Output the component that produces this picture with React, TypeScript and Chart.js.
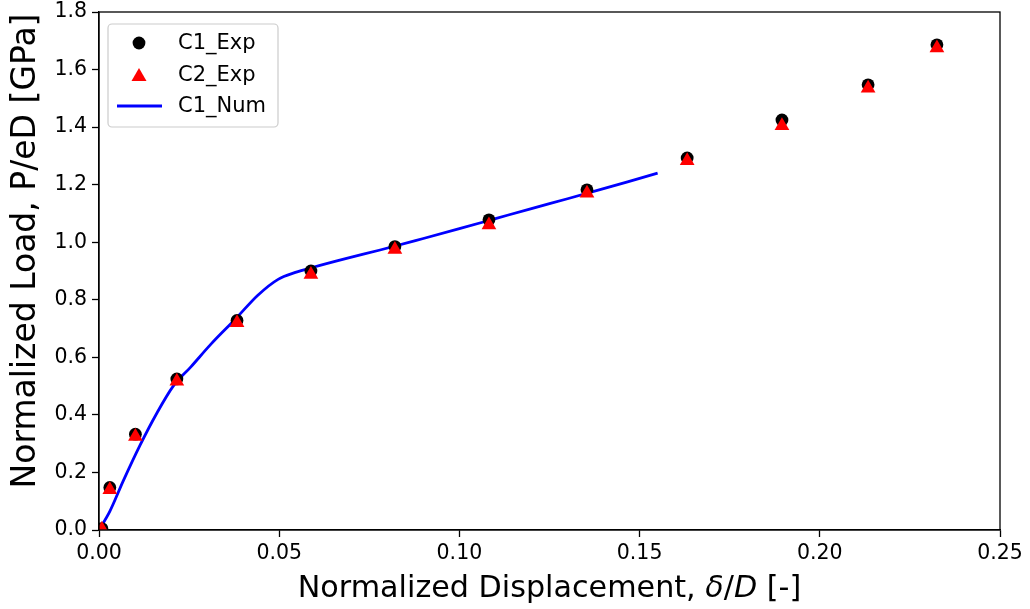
import React, { useEffect, useRef } from "react";
import { Chart, registerables } from "chart.js";

Chart.register(...registerables);

const c1X = [0.0008, 0.003, 0.0101, 0.0216, 0.0383, 0.0588, 0.0821, 0.1082, 0.1354, 0.1632, 0.1895, 0.2134, 0.2325];
const c1Y = [0.005, 0.148, 0.333, 0.525, 0.728, 0.9, 0.985, 1.078, 1.182, 1.293, 1.425, 1.547, 1.686];
const c2X = [0.0008, 0.003, 0.0101, 0.0216, 0.0383, 0.0588, 0.0821, 0.1082, 0.1354, 0.1632, 0.1895, 0.2134, 0.2325];
const c2Y = [0.003, 0.14, 0.325, 0.517, 0.72, 0.888, 0.975, 1.06, 1.17, 1.283, 1.405, 1.535, 1.675];
const numX = [0, 0.003, 0.0067, 0.0114, 0.016, 0.0206, 0.0255, 0.031, 0.038, 0.044, 0.0497, 0.0545, 0.0594, 0.0687, 0.078, 0.09, 0.1, 0.11, 0.12, 0.13, 0.14, 0.15, 0.155];
const numY = [0, 0.065, 0.17, 0.295, 0.405, 0.5, 0.567, 0.645, 0.735, 0.815, 0.871, 0.895, 0.913, 0.944, 0.973, 1.013, 1.047, 1.082, 1.117, 1.151, 1.186, 1.222, 1.24];
const seriesNames = ["C1_Exp", "C2_Exp", "C1_Num"];
const xLabelParts = [
  { t: "Normalized Displacement, ", italic: false },
  { t: "δ", italic: true },
  { t: "/", italic: false },
  { t: "D", italic: true },
  { t: " [-]", italic: false },
];
const yLabel = "Normalized Load, P/eD [GPa]";

const FONT = "'DejaVu Sans', sans-serif";

const decorPlugin = {
  id: "decor",
  afterDraw(chart: any) {
    const ctx = chart.ctx;
    const a = chart.chartArea;
    ctx.save();
    // frame
    ctx.strokeStyle = "#000";
    ctx.lineWidth = 1.3;
    ctx.strokeRect(a.left, a.top, a.right - a.left, a.bottom - a.top);

    // x title
    const xs = 30.2;
    let total = 0;
    const widths = xLabelParts.map((p) => {
      ctx.font = `${p.italic ? "italic " : ""}${xs}px ${FONT}`;
      const w = ctx.measureText(p.t).width;
      total += w;
      return w;
    });
    let x = (a.left + a.right) / 2 - total / 2;
    ctx.fillStyle = "#000";
    ctx.textBaseline = "alphabetic";
    ctx.textAlign = "left";
    xLabelParts.forEach((p, i) => {
      ctx.font = `${p.italic ? "italic " : ""}${xs}px ${FONT}`;
      ctx.fillText(p.t, x, 597);
      x += widths[i];
    });

    // y title
    ctx.save();
    ctx.translate(35, 251);
    ctx.rotate(-Math.PI / 2);
    ctx.font = `33px ${FONT}`;
    ctx.textAlign = "center";
    ctx.fillText(yLabel, 0, 0);
    ctx.restore();

    // legend
    const lx = 108, ly = 24, lw = 170, lh = 103;
    ctx.beginPath();
    ctx.roundRect(lx, ly, lw, lh, 4);
    ctx.fillStyle = "rgba(255,255,255,0.8)";
    ctx.fill();
    ctx.strokeStyle = "#cccccc";
    ctx.lineWidth = 1.2;
    ctx.stroke();

    ctx.fillStyle = "#000";
    ctx.beginPath();
    ctx.arc(139, 43, 6.4, 0, Math.PI * 2);
    ctx.fill();

    ctx.fillStyle = "#ff0000";
    ctx.beginPath();
    ctx.moveTo(139, 68);
    ctx.lineTo(146.5, 81);
    ctx.lineTo(131.5, 81);
    ctx.closePath();
    ctx.fill();

    ctx.strokeStyle = "#0000ff";
    ctx.lineWidth = 2.8;
    ctx.beginPath();
    ctx.moveTo(117, 106);
    ctx.lineTo(162, 106);
    ctx.stroke();

    ctx.fillStyle = "#000";
    ctx.font = `21px ${FONT}`;
    ctx.textAlign = "left";
    ctx.textBaseline = "middle";
    [43, 75, 106].forEach((yy, i) => ctx.fillText(seriesNames[i], 178, yy + 1));
    ctx.restore();
  },
};

export default function App() {
  const ref = useRef<HTMLCanvasElement>(null);
  useEffect(() => {
    if (!ref.current) return;
    const chart = new Chart(ref.current, {
      type: "scatter",
      data: {
        datasets: [
          {
            label: seriesNames[2],
            type: "line",
            data: numX.map((x, i) => ({ x, y: numY[i] })),
            borderColor: "#0000ff",
            backgroundColor: "#0000ff",
            borderWidth: 2.8,
            pointRadius: 0,
            cubicInterpolationMode: "monotone",
            fill: false,
            order: 3,
          } as any,
          {
            label: seriesNames[0],
            data: c1X.map((x, i) => ({ x, y: c1Y[i] })),
            backgroundColor: "#000000",
            borderColor: "#000000",
            pointStyle: "circle",
            pointRadius: 6.4,
            borderWidth: 0,
            order: 2,
          },
          {
            label: seriesNames[1],
            data: c2X.map((x, i) => ({ x, y: c2Y[i] })),
            backgroundColor: "#ff0000",
            borderColor: "#ff0000",
            pointStyle: "triangle",
            pointRadius: 8.5,
            borderWidth: 0,
            order: 1,
          },
        ],
      },
      options: {
        responsive: false,
        animation: false,
        layout: { padding: { left: 0, right: 30, top: 12, bottom: 0 } },
        plugins: { legend: { display: false }, tooltip: { enabled: false } },
        scales: {
          x: {
            type: "linear",
            min: 0,
            max: 0.25,
            ticks: {
              stepSize: 0.05,
              color: "#000",
              font: { family: FONT, size: 20.5 },
              padding: 4,
              callback: (v: any) => Number(v).toFixed(2),
            },
            grid: { drawOnChartArea: false, drawTicks: true, tickLength: 7, tickColor: "#000", tickWidth: 1.3 },
            border: { display: true, color: "#000", width: 1.3 },
            afterFit: (s: any) => { s.height = 79; },
          },
          y: {
            type: "linear",
            min: 0,
            max: 1.8,
            ticks: {
              stepSize: 0.2,
              color: "#000",
              font: { family: FONT, size: 20.5, lineHeight: 0.6 },
              padding: 5,
              callback: (v: any) => Number(v).toFixed(1),
            },
            grid: { drawOnChartArea: false, drawTicks: true, tickLength: 7, tickColor: "#000", tickWidth: 1.3 },
            border: { display: true, color: "#000", width: 1.3 },
            afterFit: (s: any) => { s.width = 99; },
          },
        },
      },
      plugins: [decorPlugin],
    });
    return () => chart.destroy();
  }, []);
  return (
    <div style={{ position: "fixed", left: 0, top: 0, width: 1030, height: 609, background: "#fff" }}>
      <canvas ref={ref} width={1030} height={609} style={{ width: 1030, height: 609 }} />
    </div>
  );
}
